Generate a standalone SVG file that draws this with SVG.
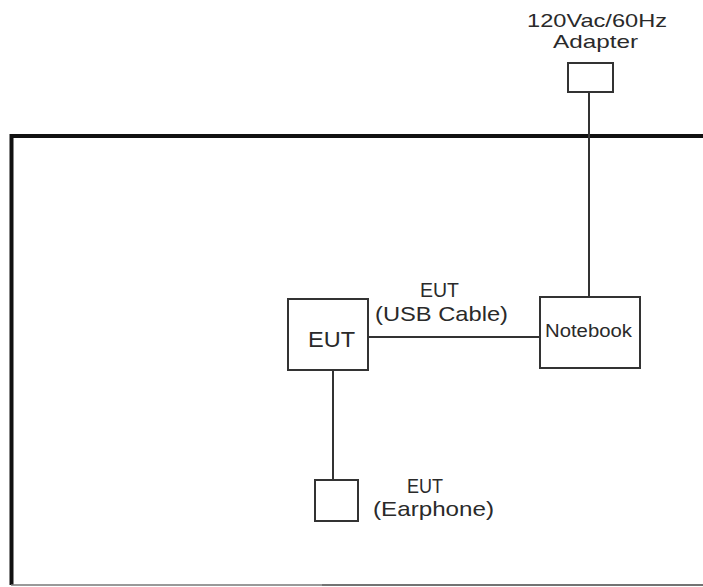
<svg xmlns="http://www.w3.org/2000/svg" width="703" height="587" viewBox="0 0 703 587">
<style>
.box{fill:#fff;stroke:#333;stroke-width:2}
.ln{stroke:#333;stroke-width:2;fill:none}
text{font-family:"Liberation Sans",Arial,sans-serif;font-size:21px;fill:#2a2a2a;text-anchor:start}
</style>
<rect width="703" height="587" fill="#fff"/>
<g id="frame">
<path d="M704,136 L11.5,136 L11.5,585" fill="none" stroke="#111" stroke-width="4"/>
<path d="M11,585 L322,585" fill="none" stroke="#777" stroke-width="1.5"/>
<path d="M322,585 L703,585" fill="none" stroke="#444" stroke-width="1.5"/>
</g>
<g id="connectors">
<line class="ln" x1="589" y1="92" x2="589" y2="297"/>
<line class="ln" x1="368" y1="337" x2="540" y2="337"/>
<line class="ln" x1="333" y1="370" x2="333" y2="480"/>
</g>
<g id="adapter">
<text x="527" y="27" style="font-size:19px" textLength="140" lengthAdjust="spacingAndGlyphs">120Vac/60Hz</text>
<text x="553" y="48" style="font-size:19px" textLength="85" lengthAdjust="spacingAndGlyphs">Adapter</text>
<rect class="box" x="568" y="63" width="45" height="29"/>
</g>
<g id="eut">
<rect class="box" x="288" y="299" width="80" height="71"/>
<text x="308" y="347" style="font-size:22px" textLength="47" lengthAdjust="spacingAndGlyphs">EUT</text>
</g>
<g id="usb-label">
<text x="420" y="297" textLength="39" lengthAdjust="spacingAndGlyphs">EUT</text>
<text x="375" y="321" textLength="133" lengthAdjust="spacingAndGlyphs">(USB Cable)</text>
</g>
<g id="notebook">
<rect class="box" x="540" y="297" width="100" height="71"/>
<text x="545" y="337" style="font-size:18px" textLength="87" lengthAdjust="spacingAndGlyphs">Notebook</text>
</g>
<g id="earphone">
<rect class="box" x="315" y="480" width="43" height="41"/>
<text x="407" y="493" textLength="36" lengthAdjust="spacingAndGlyphs">EUT</text>
<text x="373" y="516" textLength="121" lengthAdjust="spacingAndGlyphs">(Earphone)</text>
</g>
</svg>
